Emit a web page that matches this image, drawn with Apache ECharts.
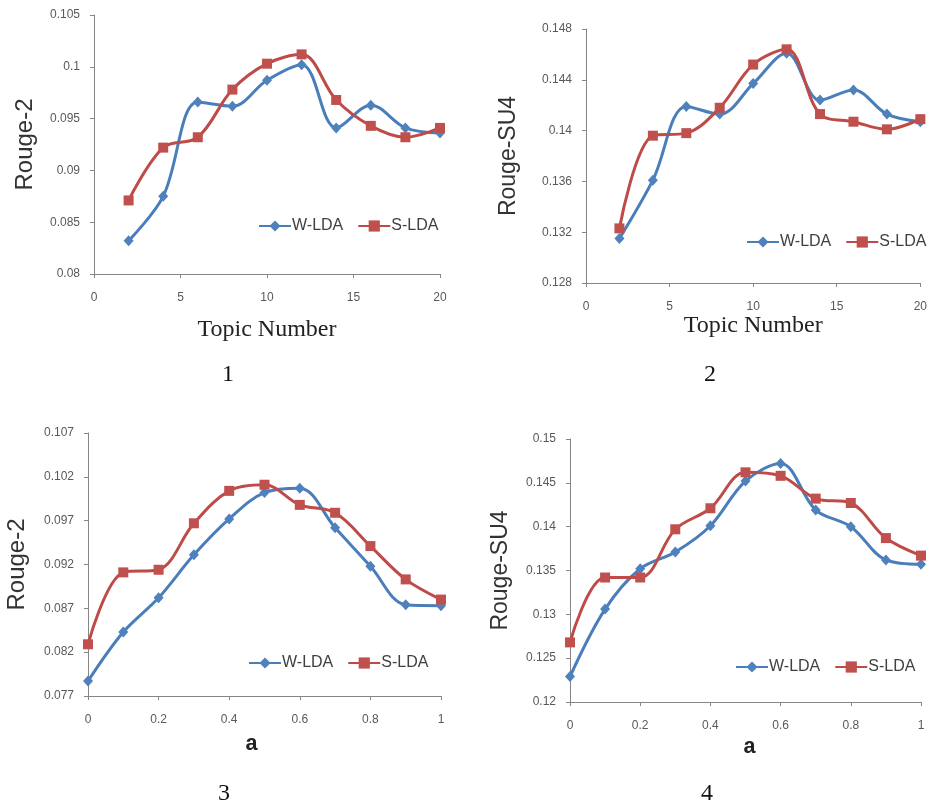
<!DOCTYPE html>
<html>
<head>
<meta charset="utf-8">
<script src="https://cdn.jsdelivr.net/npm/echarts@6/dist/echarts.min.js"></script>
<style>
html,body{margin:0;padding:0;background:#fff;}
#chart{width:930px;height:807px;}
</style>
</head>
<body>
<div id="chart"></div>
<script>
// ---- data ----
var seriesNames = ['W-LDA', 'S-LDA'];
var topicX = [2, 4, 6, 8, 10, 12, 14, 16, 18, 20];
var topicRouge2W = [0.0832, 0.0875, 0.0966, 0.0962, 0.0987, 0.1002, 0.0941, 0.0963, 0.0941, 0.0936];
var topicRouge2S = [0.0871, 0.0922, 0.0932, 0.0978, 0.1003, 0.1012, 0.0968, 0.0943, 0.0932, 0.0941];
var topicSU4W = [0.1315, 0.1361, 0.1419, 0.1413, 0.1437, 0.1461, 0.1424, 0.1432, 0.1413, 0.1407];
var topicSU4S = [0.1323, 0.1396, 0.1398, 0.1418, 0.1452, 0.1464, 0.1413, 0.1407, 0.1401, 0.1409];
var aX = [0, 0.1, 0.2, 0.3, 0.4, 0.5, 0.6, 0.7, 0.8, 0.9, 1];
var aRouge2W = [0.0787, 0.0843, 0.0882, 0.0931, 0.0972, 0.1002, 0.1007, 0.0962, 0.0918, 0.0874, 0.0873];
var aRouge2S = [0.0829, 0.0911, 0.0914, 0.0967, 0.1004, 0.1011, 0.0988, 0.0979, 0.0941, 0.0903, 0.0880];
var aSU4W = [0.1229, 0.1306, 0.1352, 0.1371, 0.1401, 0.1452, 0.1472, 0.1419, 0.1400, 0.1362, 0.1357];
var aSU4S = [0.1268, 0.1342, 0.1342, 0.1397, 0.1421, 0.1462, 0.1458, 0.1432, 0.1427, 0.1387, 0.1367];
var yTicks1 = [0.08, 0.085, 0.09, 0.095, 0.1, 0.105];
var yTicks2 = [0.128, 0.132, 0.136, 0.14, 0.144, 0.148];
var yTicks3 = [0.077, 0.082, 0.087, 0.092, 0.097, 0.102, 0.107];
var yTicks4 = [0.12, 0.125, 0.13, 0.135, 0.14, 0.145, 0.15];
var yNames = ['Rouge-2', 'Rouge-SU4', 'Rouge-2', 'Rouge-SU4'];
var xNames = ['Topic Number', 'Topic Number', 'a', 'a'];
var captions = ['1', '2', '3', '4'];

// ---- build ----
function zip(xs, ys) { return xs.map(function (x, i) { return [x, ys[i]]; }); }
var BLUE = '#4A7EBB', RED = '#BE4B48';
var grids = [
  {left: 94, top: 15, width: 346, height: 259},
  {left: 586, top: 29, width: 337, height: 254},
  {left: 88, top: 433, width: 353, height: 263},
  {left: 570, top: 439, width: 351, height: 263}
];
var axisLineStyle = {color: '#868686', width: 1};
var labelStyle = {color: '#595959', fontSize: 12, fontFamily: 'Liberation Sans'};
var yRanges = [[0.08, 0.105, yTicks1], [0.128, 0.148, yTicks2], [0.077, 0.107, yTicks3], [0.12, 0.15, yTicks4]];
var xRanges = [[0, 20, 5], [0, 20, 5], [0, 1, 0.2], [0, 1, 0.2]];
var xNameGaps = [44, 30, 0, 0];
var yNameGaps = [57, 66, 59, 58];
var yNameSizes = [24, 23, 24, 23];

var xAxes = xRanges.map(function (r, i) {
  var ax = {
    type: 'value', gridIndex: i, min: r[0], max: r[1], interval: r[2],
    axisLine: {show: true, lineStyle: axisLineStyle},
    axisTick: {show: true, length: 4, lineStyle: axisLineStyle},
    splitLine: {show: false},
    axisLabel: Object.assign({margin: 18}, labelStyle)
  };
  if (i < 2) {
    ax.name = xNames[i];
    ax.nameLocation = 'middle';
    ax.nameGap = xNameGaps[i];
    ax.nameTextStyle = {fontFamily: 'Liberation Serif', fontSize: 24, color: '#222'};
  }
  return ax;
});
var yAxes = yRanges.map(function (r, i) {
  return {
    type: 'value', gridIndex: i, min: r[0], max: r[1],
    name: yNames[i], nameLocation: 'middle', nameGap: yNameGaps[i],
    nameTextStyle: {fontFamily: 'Liberation Sans', fontSize: yNameSizes[i], color: '#333'},
    axisLine: {show: true, lineStyle: axisLineStyle},
    axisTick: {show: true, length: 4, lineStyle: axisLineStyle, customValues: r[2]},
    splitLine: {show: false},
    axisLabel: Object.assign({margin: 14, customValues: r[2],
      formatter: function (v) { return String(parseFloat(Number(v).toFixed(4))); }}, labelStyle)
  };
});
var panelData = [
  [zip(topicX, topicRouge2W), zip(topicX, topicRouge2S)],
  [zip(topicX, topicSU4W), zip(topicX, topicSU4S)],
  [zip(aX, aRouge2W), zip(aX, aRouge2S)],
  [zip(aX, aSU4W), zip(aX, aSU4S)]
];
var series = [];
panelData.forEach(function (pd, i) {
  series.push({
    name: seriesNames[0], type: 'line', xAxisIndex: i, yAxisIndex: i, data: pd[0],
    smooth: 0.35, symbol: 'diamond', symbolSize: [10, 11],
    lineStyle: {color: BLUE, width: 3}, itemStyle: {color: '#4F81BD'}, z: 2
  });
  series.push({
    name: seriesNames[1], type: 'line', xAxisIndex: i, yAxisIndex: i, data: pd[1],
    smooth: 0.35, symbol: 'rect', symbolSize: 10,
    lineStyle: {color: RED, width: 3}, itemStyle: {color: '#C0504D'}, z: 3
  });
});
var legendPos = [[258, 218], [746, 234], [248, 655], [735, 659]];
var legends = legendPos.map(function (p) {
  return {
    data: seriesNames, left: p[0], top: p[1], orient: 'horizontal',
    itemWidth: 32, itemHeight: 14, itemGap: 14, padding: 0,
    textStyle: {fontFamily: 'Liberation Sans', fontSize: 16, color: '#404040', padding: [0, 0, 0, -4]},
    selectedMode: false
  };
});
var graphics = [];
var capPos = [[228, 377], [710, 377], [224, 796], [707, 796]];
capPos.forEach(function (p, i) {
  graphics.push({type: 'text', left: p[0] - 6, top: p[1] - 14,
    style: {text: captions[i], font: '24px "Liberation Serif"', fill: '#111'}});
});
var aPos = [[252, 747], [750, 750]];
aPos.forEach(function (p, i) {
  graphics.push({type: 'text', left: p[0] - 7, top: p[1] - 14,
    style: {text: xNames[i + 2], font: 'bold 22px "Liberation Mono"', fill: '#222'}});
});

var chart = echarts.init(document.getElementById('chart'));
chart.setOption({
  backgroundColor: '#fff',
  animation: false,
  grid: grids,
  xAxis: xAxes,
  yAxis: yAxes,
  legend: legends,
  series: series,
  graphic: graphics
});
</script>
</body>
</html>
